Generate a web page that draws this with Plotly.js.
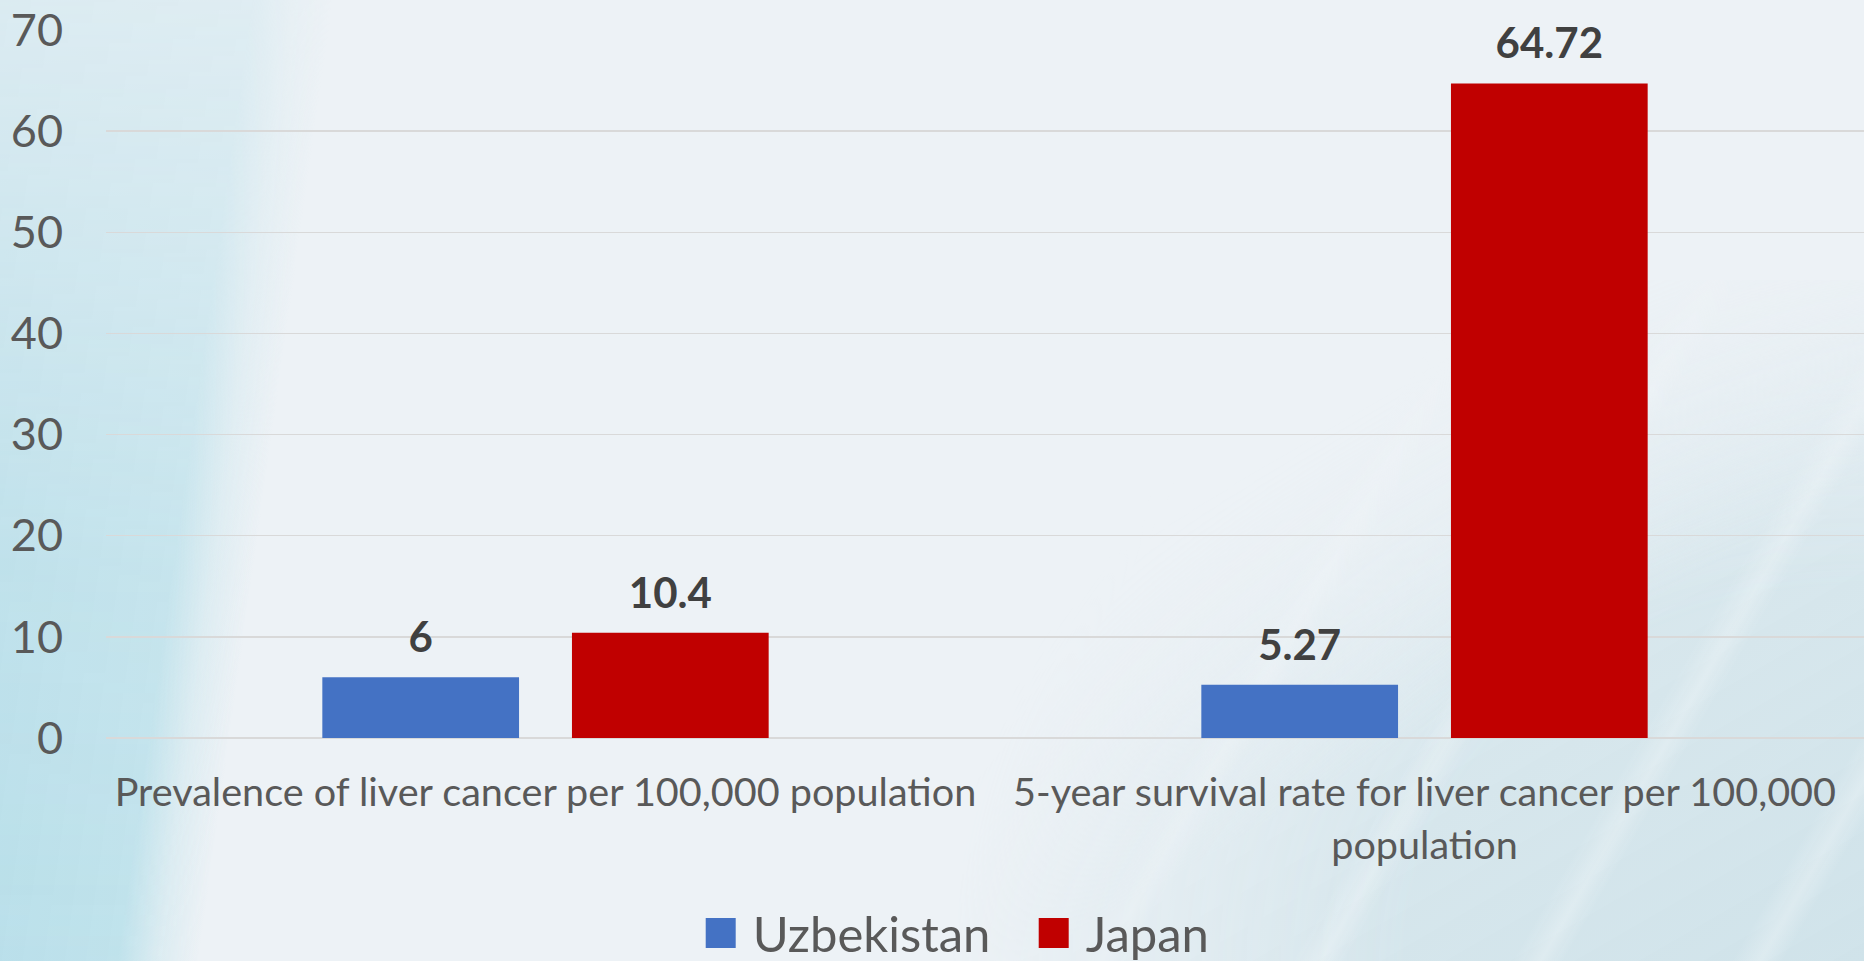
<!DOCTYPE html>
<html>
<head>
<meta charset="utf-8">
<script src="https://cdn.plot.ly/plotly-3.0.1.min.js"></script>
<style>
  html, body { margin:0; padding:0; width:1864px; height:961px; overflow:hidden; background:#EDF2F6; }
  #bgLeft { position:absolute; left:0; top:0; width:460px; height:961px;
    background: linear-gradient(98deg, rgba(176,219,231,0.95) 0px, rgba(186,224,234,0.9) 250px, rgba(205,231,238,0.55) 290px, rgba(237,242,246,0) 330px);
    -webkit-mask-image: linear-gradient(to top, #000 0%, rgba(0,0,0,0.85) 40%, rgba(0,0,0,0.3) 100%);
    mask-image: linear-gradient(to top, #000 0%, rgba(0,0,0,0.85) 40%, rgba(0,0,0,0.3) 100%); }
  #bgRight { position:absolute; left:950px; top:280px; width:914px; height:681px;
    background:
      repeating-linear-gradient(-60deg, rgba(255,255,255,0) 0px, rgba(255,255,255,0) 70px, rgba(255,255,255,0.25) 90px, rgba(255,255,255,0) 115px, rgba(255,255,255,0) 190px),
      linear-gradient(150deg, rgba(237,242,246,0) 30%, rgba(214,230,236,0.95) 60%, rgba(208,227,234,1) 100%);
    -webkit-mask-image: radial-gradient(ellipse 100% 110% at 100% 100%, #000 50%, rgba(0,0,0,0) 100%);
    mask-image: radial-gradient(ellipse 100% 110% at 100% 100%, #000 50%, rgba(0,0,0,0) 100%); }
  #chart { position:absolute; left:0; top:0; width:1864px; height:961px; }
  #chart .legend .legendpoints path { transform-box: fill-box; transform-origin: center; transform: translate(8px, 0px) scale(2.5); }
</style>
</head>
<body>
<div id="bgLeft"></div>
<div id="bgRight"></div>
<div id="chart"></div>
<script>
// ---- data ----
const categories = [
  "Prevalence of liver cancer per 100,000 population",
  "5-year survival rate for liver cancer per 100,000 population"
];
const categoryLabels = [
  "Prevalence of liver cancer per 100,000 population",
  "5-year survival rate for liver cancer per 100,000<br>population"
];
const seriesNames = ["Uzbekistan", "Japan"];
const uzbekistanValues = [6, 5.27];
const japanValues = [10.4, 64.72];
const yTickValues = [0, 10, 20, 30, 40, 50, 60, 70];

const seriesColors = ["#4472C4", "#C00000"];
const FONT = "Lato, 'Open Sans', sans-serif";

const labelTemplate = '<span style="font-size:42px">%{y}</span><br><span style="font-size:2px">&nbsp;</span>';

function makeTrace(name, values, color) {
  return {
    type: "bar",
    name: name,
    x: categories,
    y: values,
    marker: { color: color, line: { width: 0 } },
    text: values.map(String),
    texttemplate: labelTemplate,
    textposition: "outside",
    cliponaxis: false,
    constraintext: "none",
    textfont: { family: FONT, size: 17, color: "#404040", weight: 700 },
    hoverinfo: "skip"
  };
}

const data = [
  makeTrace(seriesNames[0], uzbekistanValues, seriesColors[0]),
  makeTrace(seriesNames[1], japanValues, seriesColors[1])
];

const tickText = categoryLabels.map(t => '<span style="font-size:39.6px">' + t + '</span>');

const layout = {
  width: 1864,
  height: 961,
  margin: { l: 106, r: 0, t: 30, b: 223, pad: 0, autoexpand: false },
  paper_bgcolor: "rgba(0,0,0,0)",
  plot_bgcolor: "rgba(0,0,0,0)",
  barmode: "group",
  bargap: 0.432,
  bargroupgap: 0.212,
  font: { family: FONT, color: "#595959" },
  xaxis: {
    type: "category",
    tickvals: categories,
    ticktext: tickText,
    tickfont: { family: FONT, size: 41.5, color: "#595959" },
    ticks: "",
    ticklabelstandoff: 25,
    showgrid: false,
    showline: false,
    zeroline: false,
    automargin: false,
    fixedrange: true
  },
  yaxis: {
    range: [0, 70],
    tickvals: yTickValues,
    ticktext: yTickValues.map(String),
    tickfont: { family: FONT, size: 45, color: "#595959" },
    ticks: "",
    ticklabelstandoff: 42,
    showgrid: true,
    gridcolor: "#D9D9D9",
    gridwidth: 1.5,
    zeroline: true,
    zerolinecolor: "#D9D9D9",
    zerolinewidth: 1.5,
    showline: false,
    automargin: false,
    fixedrange: true
  },
  showlegend: true,
  legend: {
    orientation: "h",
    xref: "container",
    yref: "paper",
    x: 0.561,
    xanchor: "center",
    y: -0.33,
    yanchor: "bottom",
    entrywidth: 288,
    entrywidthmode: "pixels",
    font: { family: FONT, size: 49, color: "#595959" },
    bgcolor: "rgba(0,0,0,0)",
    itemclick: false,
    itemdoubleclick: false,
    traceorder: "normal"
  }
};

Plotly.newPlot("chart", data, layout, { displayModeBar: false, staticPlot: true }).then(function (gd) {
  // let the enlarged legend squares show fully
  document.querySelectorAll("#chart .legend .scrollbox").forEach(function (g) {
    g.removeAttribute("clip-path");
  });
});
</script>
</body>
</html>
